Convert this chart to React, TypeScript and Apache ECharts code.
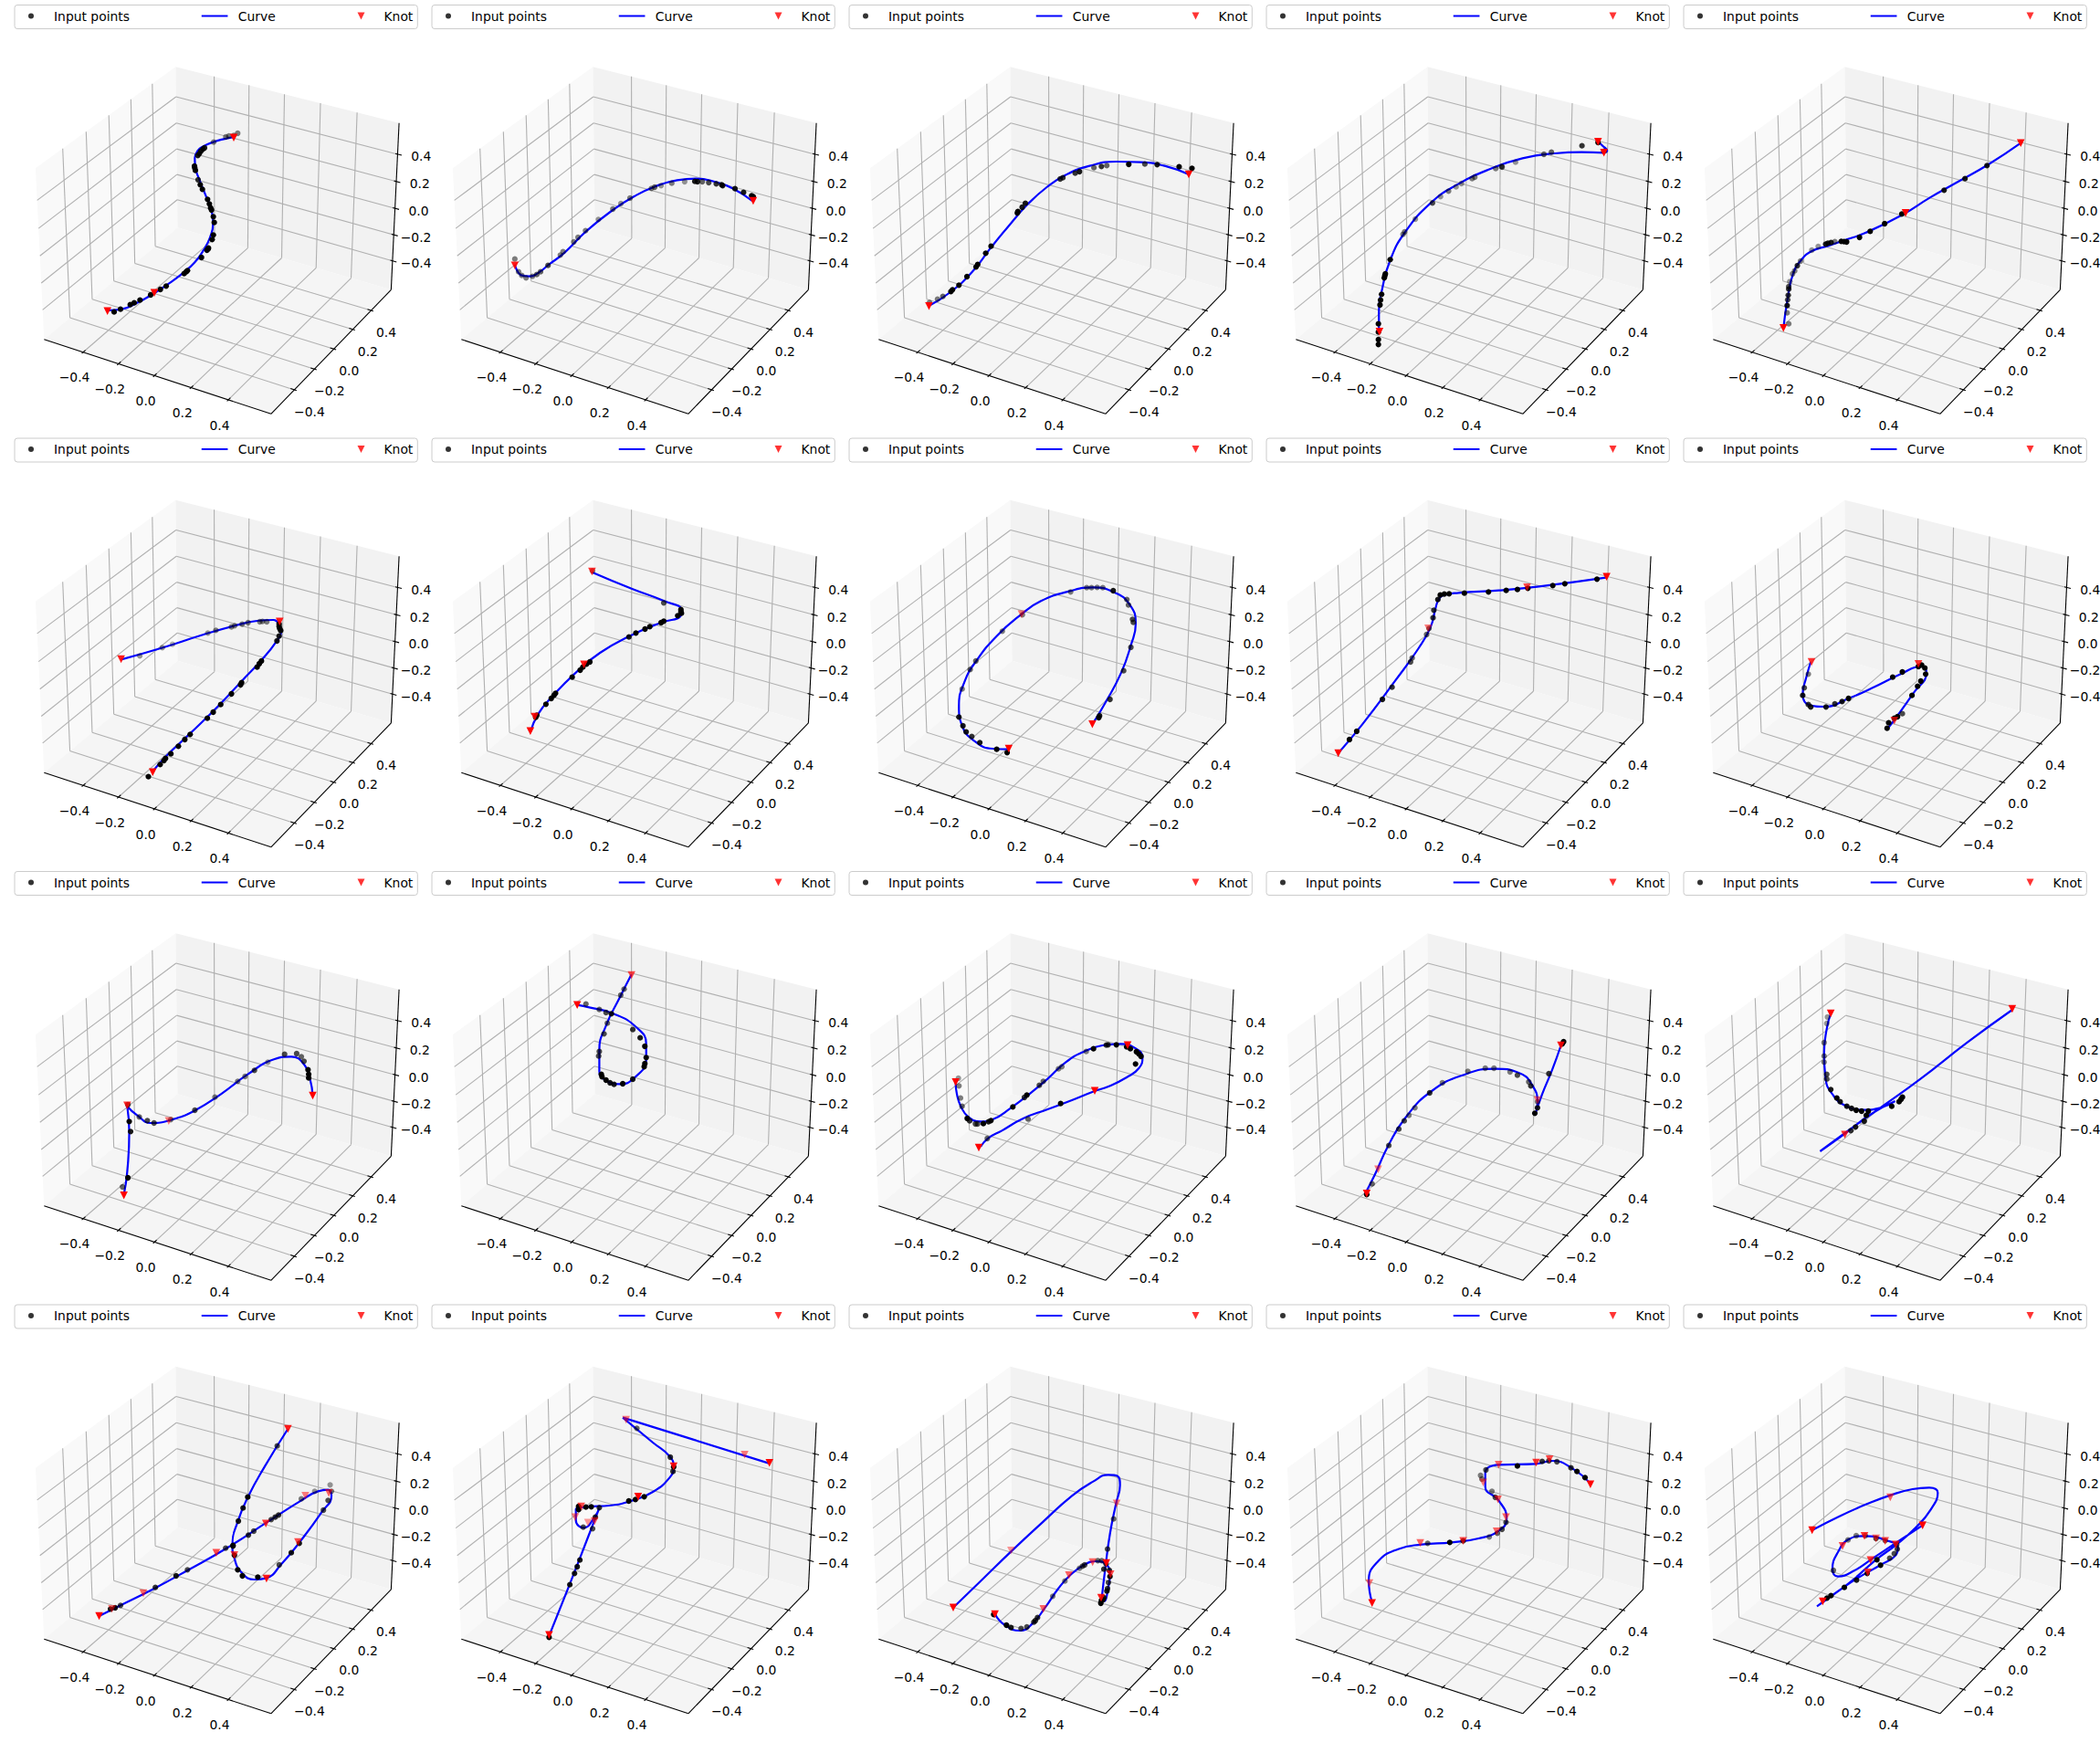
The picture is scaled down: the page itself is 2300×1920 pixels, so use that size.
import React, { useEffect, useRef } from "react";
import * as echarts from "echarts";

// Panel readings: [x, y] for curves, [x, y, depthShade] for input points and knots.
// GAP lifts the pen at a cusp, so that the spline does not round it off.
const GAP = [NaN, NaN];
const curve0 = [[352,1020],[400,1016],[450,995],[500,968],[550,935],[600,898],[640,862],[670,820],[690,780],[700,735],[695,690],[675,640],[655,590],[642,550],[640,520],[650,495],[670,480],[700,467],[735,457],[770,450]];
const points0 = [[375,1025,1],[396,1016,1],[428,1001,1],[441,995,1],[460,986,1],[495,969,1],[527,951,1],[546,940,1],[605,899,1],[612,893,1],[616,889,1],[662,846,1],[680,822,1],[685,815,1],[684,818,1],[697,787,1],[701,772,1],[704,731,1],[701,712,1],[695,690,1],[692,683,1],[688,670,1],[682,655,1],[665,622,1],[658,607,1],[651,591,.8],[642,560,1],[640,552,1],[639,546,1],[650,511,.9],[655,505,.9],[660,497,.9],[667,490,.9],[672,486,.9],[702,467,.5],[742,450,.5],[752,447,.5],[768,445,.5],[781,438,.5]];
const knots0 = [[353,1022,1],[507,962,1],[768,452,1]];

const curve1 = [[177,870],[190,905],[205,908],[222,895],[240,870],[270,830],[310,760],[360,690],[400,645],[440,612],[480,592],[515,587],[550,597],[585,620],[620,660]];
const points1 = [[177,851,.5],[184,893,.5],[190,905,.5],[198,913,.5],[210,908,.5],[218,902,.6],[225,893,.6],[239,872,.7],[262,838,.5],[267,827,.5],[287,795,.5],[295,780,.5],[309,758,.5],[333,721,.4],[360,687,.5],[375,669,.4],[392,651,.5],[432,619,.5],[438,615,.6],[450,610,.4],[470,602,.5],[494,597,.4],[513,596,.9],[518,597,.9],[527,597,.6],[539,600,.7],[553,604,.8],[563,607,.9],[565,610,.9],[588,620,.9],[604,632,.9],[619,643,1],[622,646,1]];
const knots1 = [[177,872,.9],[622,660,1]];

const curve2 = [[950,1005],[990,960],[1030,895],[1065,815],[1100,740],[1135,670],[1170,615],[1205,575],[1250,545],[1300,531],[1345,533],[1390,545],[1435,573]];
const points2 = [[951,994,.5],[966,983,.5],[976,974,.6],[991,958,1],[994,952,1],[1006,937,1],[1021,909,1],[1038,877,1],[1041,869,1],[1056,832,1],[1066,809,1],[1115,700,1],[1116,695,1],[1124,681,.9],[1130,668,.9],[1195,588,.8],[1200,584,.8],[1223,569,.8],[1231,564,.9],[1258,551,.6],[1272,547,.8],[1282,544,.6],[1323,540,1],[1353,539,.7],[1376,541,.9],[1417,548,1],[1441,553,1]];
const knots2 = [[950,1006,1],[1435,573,1]];

const curve3 = [[222,1090],[222,1020],[228,950],[243,855],[270,765],[320,665],[370,605],[430,555],[490,520],[550,504],[600,500],[643,502],GAP,[643,502],[648,495],[640,480],[631,465]];
const points3 = [[221,1132,1],[221,1116,1],[221,1091,1],[221,1064,1],[224,1002,1],[225,986,1],[227,967,1],[232,913,1],[233,906,1],[234,900,1],[243,853,1],[267,770,.5],[270,762,.5],[290,720,.4],[322,667,.7],[337,646,.4],[352,628,.5],[366,614,.4],[376,603,.4],[396,587,.5],[401,582,.5],[440,554,.5],[451,547,.6],[452,549,.6],[477,533,.4],[530,507,.6],[544,500,.6],[601,479,.8],[631,468,1],[642,497,.8]];
const knots3 = [[223,1090,1],[631,466,1],[642,502,1]];

const curve4 = [[977,1078],[985,980],[995,900],[1010,855],[1030,825],[1060,808],[1090,790],[1130,765],[1200,705],[1250,650],[1300,600],[1360,540],[1420,470]];
const points4 = [[987,1064,.5],[984,1028,.5],[984,1004,.9],[985,985,.7],[986,970,.8],[987,950,.8],[987,942,.7],[989,925,.4],[994,900,.5],[998,890,.5],[1003,873,.8],[1009,858,.5],[1030,822,.4],[1042,810,.4],[1056,802,.9],[1060,799,.9],[1066,797,.9],[1073,794,.5],[1085,793,1],[1090,794,1],[1095,795,1],[1119,780,1],[1139,760,1],[1166,735,1],[1198,703,1],[1277,625,.9],[1316,587,.9],[1357,544,.9]];
const knots4 = [[977,1078,1],[1205,700,1],[1420,470,1]];

const curve5 = [[226,727],[300,690],[380,645],[440,615],[480,600],[510,597],[522,615],[525,635],[515,670],[490,725],[450,800],[410,875],[355,970],[310,1045],[285,1095]];
const points5 = [[261,715,.4],[303,688,.4],[322,677,.3],[388,640,.4],[403,631,.5],[432,620,.5],[438,616,.5],[452,611,.5],[463,606,.5],[485,603,.5],[490,602,.5],[498,603,.5],[521,610,1],[521,618,1],[522,625,1],[524,632,1],[521,650,.9],[517,666,.9],[488,732,1],[484,741,1],[480,752,1],[451,803,1],[449,810,1],[432,840,1],[412,875,1],[398,900,1],[387,920,1],[355,973,1],[345,990,1],[333,1012,1],[319,1037,1],[309,1052,1],[306,1059,1],[299,1072,1],[277,1112,1]];
const knots5 = [[226,726,.9],[522,602,.9],[285,1097,1]];

const curve6 = [[1105,440],[1180,495],[1240,535],[1272,565],[1270,585],[1235,605],[1175,650],[1120,705],[1075,770],[1030,850],[1005,905],[990,965]];
const points6 = [[1106,436,.5],[1239,541,.7],[1271,563,1],[1271,570,1],[1272,575,1],[1265,583,1],[1239,601,1],[1234,606,1],[1213,619,1],[1204,627,1],[1187,640,1],[1174,653,.9],[1101,735,1],[1095,742,1],[1088,752,1],[1083,762,1],[1068,785,1],[1037,838,1],[1034,845,1],[1029,855,1],[1019,874,1],[1002,910,1],[1000,917,1]];
const knots6 = [[1105,438,.8],[1090,743,.9],[998,915,.9],[990,962,1]];

const curve7 = [[314,940],[330,870],[350,770],[362,680],[368,610],[360,545],[340,505],[315,490],[285,503],[250,535],[225,580],[195,650],[170,730],[155,800],[148,880],[152,945],[170,1000],[190,1020],[210,1022]];
const points7 = [[322,918,1],[323,912,.9],[336,858,.8],[353,764,.7],[362,687,.7],[365,605,.7],[364,595,.7],[359,548,.6],[357,530,.6],[340,501,.9],[327,491,.5],[320,490,.5],[313,491,.5],[307,491,.5],[287,505,.5],[227,580,.5],[202,634,.5],[169,732,.6],[162,760,.6],[152,824,.5],[148,916,.9],[153,945,.9],[157,965,.9],[164,980,.8],[174,1000,.9],[195,1022,1],[208,1033,1]];
const knots7 = [[314,940,1],[226,578,.5],[210,1020,1]];

const curve8 = [[620,1035],[650,940],[690,800],[720,690],[735,620],[741,560],[745,530],[752,515],[770,508],[820,500],[870,487],[955,457]];
const points8 = [[634,990,1],[643,963,1],[675,858,.9],[687,818,.8],[710,735,.7],[712,722,.6],[730,645,.6],[733,625,.6],[738,590,.8],[739,565,.8],[744,530,.9],[747,515,1],[752,512,1],[758,511,1],[777,509,1],[807,505,1],[829,500,1],[843,497,1],[856,493,1],[887,484,1],[902,478,1],[942,463,1]];
const knots8 = [[620,1035,1],[732,625,.5],[855,490,.7],[954,455,1]];

const curve9 = [[1208,735],[1202,790],[1198,840],[1205,875],[1225,882],[1255,855],[1285,820],[1320,775],[1345,750],[1352,770],[1335,840],[1315,915],[1305,950]];
const points9 = [[1205,775,.5],[1200,820,.7],[1198,845,.9],[1205,875,.8],[1208,883,.9],[1227,883,.9],[1238,873,.8],[1247,865,.9],[1255,855,1],[1310,785,1],[1322,768,1],[1342,750,1],[1346,745,1],[1350,755,1],[1351,775,1],[1345,798,1],[1341,815,1],[1334,845,1],[1322,905,.7],[1316,915,1],[1312,920,1],[1305,935,1],[1303,953,1]];
const knots9 = [[1209,735,.8],[1342,742,.8],[1312,928,.7]];

const curve10 = [[185,1075],[190,1000],[193,870],[190,785],GAP,[190,785],[205,815],[225,840],[255,830],[290,800],[330,745],[370,680],[410,630],[435,622],[455,650],[463,695],[467,750]];
const points10 = [[183,1050,.6],[191,1020,1],[195,868,.9],[193,835,1],[191,780,.7],[208,820,.6],[220,832,.7],[230,840,.7],[255,829,.5],[291,798,.7],[321,755,.5],[355,703,.5],[366,687,.5],[380,667,.7],[400,640,.4],[425,614,.7],[443,612,.7],[450,622,.6],[454,637,.7],[460,665,1],[461,680,1],[461,692,1]];
const knots10 = [[185,1078,1],[190,782,.8],[252,833,.5],[467,750,1]];

const curve11 = [[943,352],[925,430],[905,520],[895,600],[895,670],[905,700],[925,712],[948,690],[965,630],[965,580],[950,525],[915,480],[880,460],[862,452]];
const points11 = [[932,400,.6],[927,420,.6],[913,481,.9],[905,477,.7],[895,467,.6],[907,512,.6],[902,547,.7],[895,605,.7],[894,620,.7],[898,680,1],[899,688,1],[905,699,1],[911,708,.9],[917,713,.9],[930,711,1],[945,696,.9],[962,655,1],[963,645,1],[965,625,1],[963,588,1],[956,560,.9],[945,533,.8],[875,449,.6]];
const knots11 = [[943,354,.7],[862,452,1]];

const curve12 = [[398,708],[402,745],[415,785],[440,820],[480,835],[520,828],[580,790],[640,745],[700,695],[760,640],[820,605],[880,585],[940,580],[990,595],[1012,625],[1000,660],[960,690],[900,720],[855,735],[780,765],[700,795],[620,825],[550,865],[505,890],[480,918]];
const points12 = [[407,693,.4],[409,718,.5],[414,758,.5],[419,785,.6],[436,825,1],[444,833,.8],[463,843,.7],[470,843,.7],[489,842,1],[506,836,.9],[514,832,1],[586,787,1],[624,756,.8],[632,748,1],[673,716,.7],[686,703,.6],[736,662,.5],[747,655,.5],[827,605,.5],[851,596,1],[893,584,.8],[899,583,.8],[926,583,1],[960,590,1],[972,596,1],[992,606,1],[1000,613,1],[1007,621,1],[989,646,1],[743,776,1],[636,827,.6],[502,891,.6]];
const knots12 = [[398,706,1],[963,584,1],[855,734,1],[474,921,1]];

const curve13 = [[470,1075],[485,1010],[505,915],[530,825],[570,735],[620,680],[665,662],[700,675],[720,715],[728,775],[724,815],GAP,[724,815],[735,745],[750,665],[763,585]];
const points13 = [[473,1075,1],[481,1040,.6],[506,914,.7],[521,860,.7],[529,833,.7],[536,815,.5],[545,790,.5],[567,741,.8],[586,708,.5],[624,670,.5],[650,660,.5],[663,660,.5],[687,672,.5],[698,683,.7],[715,705,.6],[718,718,.8],[728,770,.5],[728,790,.9],[724,808,1],[745,678,.8],[767,573,1],[765,580,1]];
const knots13 = [[473,1072,1],[490,992,.5],[728,765,.5],[763,585,.9]];

const curve14 = [[1166,480],[1160,530],[1156,610],[1158,690],[1170,750],[1190,785],[1215,797],[1240,790],[1262,768],GAP,[1262,768],[1225,812],[1190,870],[1150,933],GAP,[1150,933],[1190,868],[1240,790],[1300,695],[1370,575],[1437,468]];
const points14 = [[1161,492,.4],[1160,513,.4],[1156,576,.5],[1156,620,.5],[1156,640,.5],[1160,680,.7],[1160,695,.7],[1166,730,.9],[1175,758,1],[1180,770,.9],[1190,785,.9],[1197,792,.9],[1204,798,1],[1212,801,1],[1222,801,1],[1257,785,1],[1268,770,1],[1271,762,1],[1273,755,1],[1219,815,1],[1216,834,.9],[1203,853,.9],[1196,865,.8]];
const knots14 = [[1166,480,1],[1437,465,1],[1187,878,.8]];

const curve15 = [[148,1020],[180,985],[230,930],[280,870],[340,795],[400,710],[450,640],[475,610],[490,605],[495,625],[480,680],[450,770],[420,850],[398,895],[380,900],[360,875],[350,830],[347,785],[355,710],[370,630],[395,530],[430,405]];
const points15 = [[172,993,.9],[180,985,.7],[165,997,.9],[232,926,.8],[263,888,.9],[280,868,.7],[337,797,.7],[348,788,1],[371,754,.8],[379,741,.7],[405,703,.7],[416,688,.8],[411,695,.8],[450,635,.5],[470,610,.4],[493,589,.4],[495,610,.5],[490,640,.7],[483,672,.7],[447,781,.9],[435,812,.9],[417,852,.7],[385,892,1],[362,888,1],[355,868,1],[350,820,1],[348,790,1],[356,708,.9],[363,665,.9],[370,629,1],[414,461,.7]];
const knots15 = [[148,1020,1],[167,997,.5],[214,945,.6],[323,812,.7],[397,716,.8],[456,625,.5],[491,616,.6],[445,777,.7],[398,897,.9],[350,820,.7],[430,405,.9]];

const curve16 = [[820,1085],[850,920],[880,750],[895,665],GAP,[895,665],[888,695],[872,730],[860,705],[860,670],[878,661],[910,657],[945,640],[975,612],[1000,565],[1006,530],[1000,495],[975,450],[930,368],GAP,[930,368],[1035,440],[1148,518]];
const points16 = [[820,1090,1],[851,917,.9],[858,880,.9],[862,858,.9],[866,836,.9],[885,733,.7],[889,695,.8],[895,664,.8],[871,728,.7],[864,660,1],[864,670,1],[875,662,1],[883,661,1],[939,642,1],[949,637,1],[962,628,1],[1005,545,.8],[1006,530,1],[1001,498,.8],[951,403,.6]];
const knots16 = [[820,1082,1],[868,660,.7],[859,695,.5],[878,713,.4],[888,708,.6],[953,628,1],[1006,528,.9],[1112,490,.5],[1149,517,1],[935,375,.5]];

const curve17 = [[390,992],[480,905],[580,808],[680,715],[780,625],[850,578],[900,556],[930,560],[938,590],[925,650],[905,750],[890,860],[878,962],GAP,[878,962],[885,972],[900,925],[905,880],[892,850],[860,840],[820,852],[775,885],[735,930],[690,995],[650,1045],[610,1068],[560,1050],[527,1013]];
const points17 = [[917,701,.6],[897,800,.7],[885,866,.8],[877,969,1],[882,966,1],[875,978,1],[885,960,.9],[895,938,.9],[897,930,.8],[900,910,.7],[905,890,1],[903,870,.8],[892,848,.8],[878,838,.6],[865,838,.6],[822,852,.7],[815,856,.7],[805,863,.5],[757,905,.5],[717,955,.5],[667,1025,.8],[660,1035,.8],[655,1040,.8],[632,1056,.7],[613,1061,.7],[580,1058,.9],[565,1050,1],[523,1015,1]];
const knots17 = [[390,992,1],[580,805,.4],[927,650,.5],[893,846,1],[848,843,.6],[907,883,.7],[770,886,.6],[686,997,.6],[876,960,.9],[527,1014,1]];

const curve18 = [[481,975],[476,905],[490,840],[520,800],[555,785],[600,778],[640,765],[670,740],[682,700],[670,640],[650,595],[650,550],[670,523],[725,520],[750,510],[780,535],[807,585]];
const points18 = [[564,781,.6],[597,778,1],[617,773,.8],[656,760,.5],[668,748,.6],[675,735,.7],[681,712,.7],[665,630,.7],[660,610,.5],[645,570,.5],[643,558,.5],[651,540,.7],[698,527,1],[735,512,.8],[745,510,.7],[757,513,.7],[778,533,.8],[787,545,1],[799,565,1]];
const knots18 = [[481,977,1],[477,912,.5],[553,780,.6],[617,773,.7],[667,742,.6],[681,695,.6],[669,637,.6],[647,581,.5],[670,523,.6],[726,516,.8],[746,505,.7],[807,587,1]];

const curve19 = [[470,738],[560,692],[650,652],[730,622],[800,603],[855,598],[883,615],[860,670],[810,730],[745,787],[680,835],[600,905],[540,950],[486,988],GAP,[486,988],[560,935],[620,895],[695,852],[745,820],[752,795],[710,770],[640,757],[590,768],[555,810],[537,865],[555,890],[610,870],[670,830],[745,780],[833,722]];
const points19 = [[519,961,1],[532,953,1],[576,926,1],[616,902,.9],[651,880,.9],[695,853,1],[683,835,1],[725,830,.7],[740,815,.7],[750,800,.7],[748,785,.7],[710,772,.6],[680,765,.7],[645,756,.5],[615,756,.5],[588,770,.5],[540,870,.6]];
const knots19 = [[470,738,1],[727,630,.6],[833,722,1],[642,757,.8],[680,765,.6],[710,773,.7],[570,790,.7],[745,785,.8],[662,836,.8],[653,877,.8],[505,972,1]];

const curves = [curve0,curve1,curve2,curve3,curve4,curve5,curve6,curve7,curve8,curve9,curve10,curve11,curve12,curve13,curve14,curve15,curve16,curve17,curve18,curve19];
const inputPoints = [points0,points1,points2,points3,points4,points5,points6,points7,points8,points9,points10,points11,points12,points13,points14,points15,points16,points17,points18,points19];
const knotPoints = [knots0,knots1,knots2,knots3,knots4,knots5,knots6,knots7,knots8,knots9,knots10,knots11,knots12,knots13,knots14,knots15,knots16,knots17,knots18,knots19];

// Reading frames of each panel's data scale.
const READ_X0 = [0,460,460,1380,1380,0,0,920,920,920,0,0,914,1150,1150,0,0,914,1150,1828];
const READ_SX = [3,1.7043,1.7043,1.7043,1.7043,1.7043,1.7043,1.1362,1.1362,1.1362,1.3635,1.3635,3,1.3635,1.3635,1.3635,1.3635,3,1.3635,3];
const READ_Y0 = [0,0,0,0,0,480,480,480,480,480,950,950,950,950,950,1430,1430,1430,1430,1430];
const READ_SY = 3;

const ticks = [-0.4, -0.2, 0, 0.2, 0.4];
const tickLabels = ["\u22120.4", "\u22120.2", "0.0", "0.2", "0.4"];
const zLabelShift = [25.8, 24.3, 25.8, 25.8, 25.8];
const legendNames = ["Input points", "Curve", "Knot"];

const COLS = 5;
const ROWS = 4;
const CELL_W = 457;
const CELL_H = 474.5;
const FONT = "'DejaVu Sans'";
const FONT_SIZE = 13.89;
const TRIANGLE = "path://M0,0L10,0L5,10Z";
// Legend keys share a 38x8 cell: the zero-length corners hold the cell, the mark sits inside it.
const CELL = "M0,0L0,0M38,8L38,8";
const KEY_DOT = `path://${CELL}M15,4A3,3,0,1,1,21,4A3,3,0,1,1,15,4Z`;
const KEY_LINE = `path://${CELL}M3,3L31.7,3L31.7,5L3,5Z`;
const KEY_KNOT = `path://${CELL}M14,0L22,0L18,8Z`;

// mplot3d projection, elev=30, azim=-60, dist=10, box aspect 4:4:3
const LIM = 0.6;
const PANE = 0.625;
const BOX = [1.19048, 1.19048, 0.89286];
const W = [0.43301, -0.75, 0.5];
const U = [0.86603, 0.5, 0];
const V = [-0.25, 0.43301, 0.86603];
const SCALE = 2295;
const PX0 = 242;
const PY0 = 253.7;
function project(x: number, y: number, z: number): [number, number] {
  const p = [(x / LIM) * BOX[0] * 0.5, (y / LIM) * BOX[1] * 0.5, (z / LIM) * BOX[2] * 0.5];
  const dot = (a: number[]) => a[0] * p[0] + a[1] * p[1] + a[2] * p[2];
  const d = 10 - dot(W);
  return [PX0 + (SCALE * dot(U)) / d, PY0 - (SCALE * dot(V)) / d];
}

function renderFrame(col: number, row: number) {
  const ox = col * CELL_W;
  const oy = row * CELL_H;
  const P = (x: number, y: number, z: number) => {
    const q = project(x, y, z);
    return [q[0] + ox, q[1] + oy];
  };
  const L = PANE;
  const children: any[] = [];
  const poly = (pts: number[][], fill: string) =>
    children.push({ type: "polygon", shape: { points: pts }, style: { fill, stroke: null } });
  const seg = (a: number[], b: number[], stroke: string, lineWidth: number) =>
    children.push({ type: "line", shape: { x1: a[0], y1: a[1], x2: b[0], y2: b[1] }, style: { stroke, lineWidth } });
  const label = (a: number[], text: string) =>
    children.push({
      type: "text",
      style: { x: a[0], y: a[1], text, align: "center", verticalAlign: "middle", fill: "#000", fontSize: FONT_SIZE, fontFamily: FONT },
    });

  poly([P(-L, -L, -L), P(-L, L, -L), P(-L, L, L), P(-L, -L, L)], "#f9f9f9");
  poly([P(-L, L, -L), P(L, L, -L), P(L, L, L), P(-L, L, L)], "#f2f2f2");
  poly([P(-L, -L, -L), P(L, -L, -L), P(L, L, -L), P(-L, L, -L)], "#f5f5f5");

  const GRID = "#b0b0b0";
  ticks.forEach((t) => {
    seg(P(t, -L, -L), P(t, L, -L), GRID, 1.1);
    seg(P(t, L, -L), P(t, L, L), GRID, 1.1);
    seg(P(-L, t, -L), P(L, t, -L), GRID, 1.1);
    seg(P(-L, t, -L), P(-L, t, L), GRID, 1.1);
    seg(P(-L, -L, t), P(-L, L, t), GRID, 1.1);
    seg(P(-L, L, t), P(L, L, t), GRID, 1.1);
  });
  seg(P(-L, -L, -L), P(L, -L, -L), "#000", 1.1);
  seg(P(L, -L, -L), P(L, L, -L), "#000", 1.1);
  seg(P(L, L, -L), P(L, L, L), "#000", 1.1);
  ticks.forEach((t, i) => {
    seg(P(t, -L - 0.012, -L), P(t, -L + 0.02, -L), "#000", 1.1);
    seg(P(L + 0.012, t, -L), P(L - 0.02, t, -L), "#000", 1.1);
    seg(P(L + 0.022, L, t), P(L - 0.012, L, t), "#000", 1.1);
    const xp = P(t, -L, -L);
    label([xp[0] - 9.5, xp[1] + 27.6], tickLabels[i]);
    const yp = P(L, t, -L);
    label([yp[0] + 16.5, yp[1] + 23.8], tickLabels[i]);
    const zp = P(L, L, t);
    label([zp[0] + zLabelShift[i], zp[1] + 2.5], tickLabels[i]);
  });
  return { type: "group", children };
}

function buildOption() {
  const grids: any[] = [];
  const xAxes: any[] = [];
  const yAxes: any[] = [];
  const legends: any[] = [];
  const series: any[] = [];
  for (let r = 0; r < ROWS; r++) {
    for (let c = 0; c < COLS; c++) {
      const i = r * COLS + c;
      const left = c * CELL_W;
      const top = r * CELL_H;
      grids.push({ left, top, width: CELL_W, height: CELL_H, show: false });
      xAxes.push({
        type: "value", gridIndex: i, show: false,
        min: (left - READ_X0[i]) * READ_SX[i],
        max: (left + CELL_W - READ_X0[i]) * READ_SX[i],
      });
      yAxes.push({
        type: "value", gridIndex: i, show: false, inverse: true,
        min: (top - READ_Y0[i]) * READ_SY,
        max: (top + CELL_H - READ_Y0[i]) * READ_SY,
      });
      legends.push({
        left: left + 16,
        top: top + 5.5,
        orient: "horizontal",
        selectedMode: false,
        backgroundColor: "#fff",
        borderColor: "#cccccc",
        borderWidth: 1,
        borderRadius: 3,
        padding: [4, 5, 6, 0],
        itemGap: 75.8,
        itemWidth: 38,
        itemHeight: 8,
        textStyle: { color: "#000", fontFamily: FONT, fontSize: FONT_SIZE, lineHeight: 16 },
        data: [
          { name: legendNames[0], icon: KEY_DOT },
          { name: legendNames[1], icon: KEY_LINE },
          { name: legendNames[2], icon: KEY_KNOT },
        ],
      });
      series.push({
        type: "custom", coordinateSystem: "none", silent: true, z: 1,
        data: [[i]],
        renderItem: () => renderFrame(c, r),
      });
      series.push({
        type: "line", name: legendNames[1], xAxisIndex: i, yAxisIndex: i, z: 3,
        data: curves[i],
        smooth: 0.5, symbol: "none", showSymbol: false, silent: true, clip: false, connectNulls: false,
        color: "#0000ff",
        itemStyle: { color: "#0000ff" },
        lineStyle: { color: "#0000ff", width: 2.2 },
      });
      series.push({
        type: "scatter", name: legendNames[0], xAxisIndex: i, yAxisIndex: i, z: 4,
        symbol: "circle", symbolSize: 6.2, silent: true, clip: false,
        itemStyle: { color: "#000" },
        data: inputPoints[i].map((p) => ({ value: [p[0], p[1]], itemStyle: { opacity: p[2] } })),
      });
      series.push({
        type: "scatter", name: legendNames[2], xAxisIndex: i, yAxisIndex: i, z: 5,
        symbol: TRIANGLE, symbolSize: 8.5, silent: true, clip: false,
        itemStyle: { color: "#ff0000" },
        data: knotPoints[i].map((p) => ({ value: [p[0], p[1]], itemStyle: { opacity: p[2] } })),
      });
    }
  }
  return { animation: false, backgroundColor: "#ffffff", grid: grids, xAxis: xAxes, yAxis: yAxes, legend: legends, series };
}

export default function App() {
  const ref = useRef<HTMLDivElement>(null);
  useEffect(() => {
    const chart = echarts.init(ref.current!, undefined, { renderer: "svg" });
    chart.setOption(buildOption());
    return () => chart.dispose();
  }, []);
  return <div ref={ref} style={{ position: "absolute", left: 0, top: 0, width: 2300, height: 1920 }} />;
}
